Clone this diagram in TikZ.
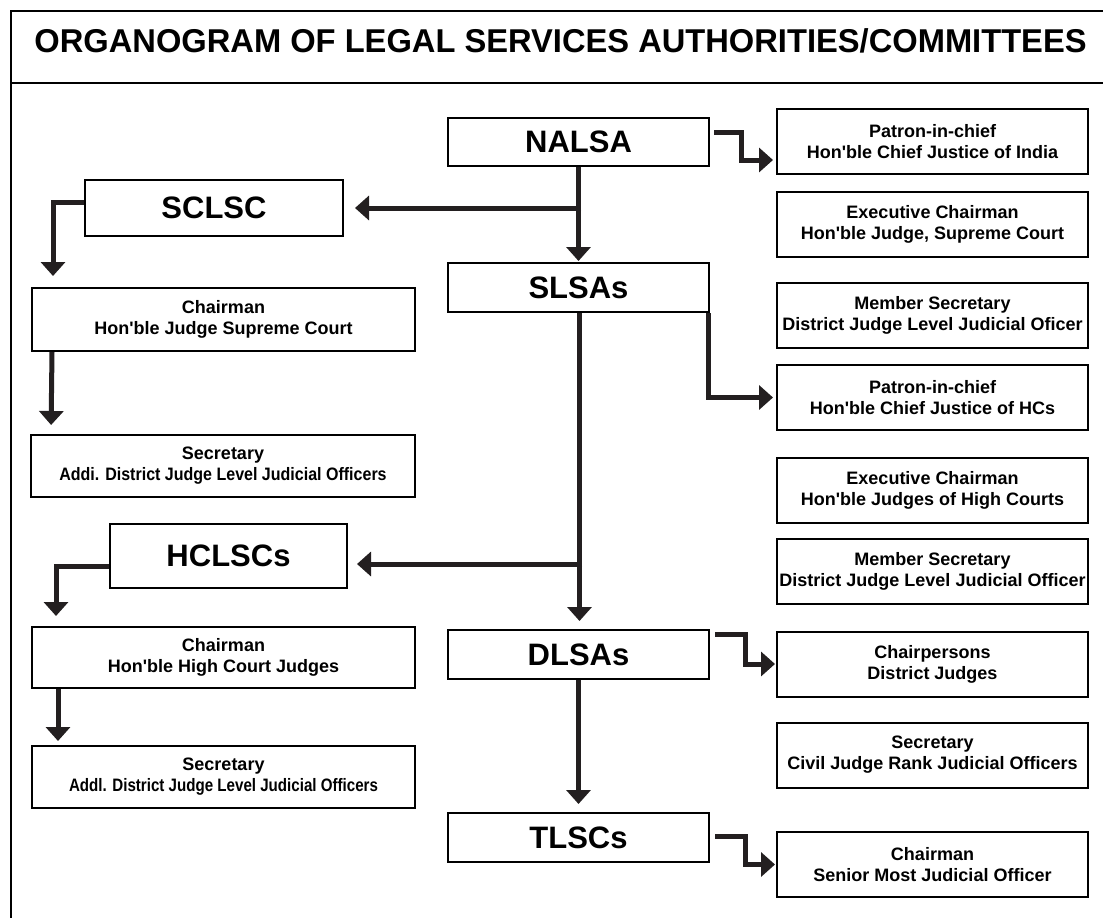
\documentclass[tikz,border=0pt]{standalone}
\usepackage{fontspec}
\setmainfont{Liberation Sans}
\usetikzlibrary{arrows.meta}
\definecolor{ink}{HTML}{231F20}
\newcommand{\sq}[2]{\scalebox{#1}[1]{#2}}
\newcommand{\ap}{\textquotesingle}
\tikzset{
  frame/.style={line width=2pt, draw=black},
  bigbox/.style={draw=black, line width=2pt, inner sep=0pt, font=\fontsize{31}{31}\selectfont\bfseries},
  infobox/.style={draw=black, line width=2pt, inner sep=0pt, align=center, minimum width=311pt, minimum height=65pt, font=\fontsize{18}{21}\selectfont\bfseries},
  leftbox/.style={draw=black, line width=2pt, inner sep=0pt, align=center, minimum width=383pt, font=\fontsize{18}{21}\selectfont\bfseries},
  conn/.style={draw=ink, line width=5pt, line join=miter, -{Triangle[length=14pt,width=24pt]}},
}
\begin{document}
\begin{tikzpicture}[x=1pt,y=-1pt]
\clip (0,0) rectangle (1103,918);
\fill[white] (0,0) rectangle (1103,918);
% frame
\draw[frame] (1120,11) -- (11,11) -- (11,940);
\draw[frame] (11,83) -- (1120,83);
\node (title) at (560.5,41) {\fontsize{33}{33}\selectfont\bfseries\sq{0.99}{ORGANOGRAM OF LEGAL SERVICES AUTHORITIES/COMMITTEES}};
% centre column
\node[bigbox, minimum width=261pt, minimum height=48pt] (nalsa) at (578.5,142) {NALSA};
\node[bigbox, minimum width=261pt, minimum height=49pt] (slsa) at (578.5,287.5) {SLSAs};
\node[bigbox, minimum width=261pt, minimum height=49pt] (dlsa) at (578.5,654.5) {DLSAs};
\node[bigbox, minimum width=261pt, minimum height=49pt] (tlsc) at (578.5,837.5) {TLSCs};
% left column
\node[bigbox, minimum width=258pt, minimum height=56pt] (sclsc) at (214,208) {SCLSC};
\node[leftbox, minimum height=63pt] (scch) at (223.5,319.5) {Chairman\\Hon\ap ble Judge Supreme Court};
\node[leftbox, minimum width=384pt, minimum height=62pt] (scsec) at (223,466) {Secretary\\\sq{0.89}{Addi. District Judge Level Judicial Officers}};
\node[bigbox, minimum width=237pt, minimum height=64pt] (hclsc) at (228.5,556) {HCLSCs};
\node[leftbox, minimum height=61pt] (hcch) at (223.5,657.5) {Chairman\\Hon\ap ble High Court Judges};
\node[leftbox, minimum height=62pt] (hcsec) at (223.5,777) {Secretary\\\sq{0.84}{Addl. District Judge Level Judicial Officers}};
% right column
\node[infobox] (p1) at (932.5,141.5) {Patron-in-chief\\Hon\ap ble Chief Justice of India};
\node[infobox] (e1) at (932.5,224.5) {Executive Chairman\\Hon\ap ble Judge, Supreme Court};
\node[infobox] (m1) at (932.5,315.5) {Member Secretary\\District Judge Level Judicial Oficer};
\node[infobox] (p2) at (932.5,397.5) {Patron-in-chief\\Hon\ap ble Chief Justice of HCs};
\node[infobox] (e2) at (932.5,490) {Executive Chairman\\Hon\ap ble Judges of High Courts};
\node[infobox] (m2) at (932.5,571.5) {Member Secretary\\District Judge Level Judicial Officer};
\node[infobox] (cp) at (932.5,664) {Chairpersons\\District Judges};
\node[infobox] (cs) at (932.5,755) {Secretary\\Civil Judge Rank Judicial Officers};
\node[infobox] (sm) at (932.5,864.5) {Chairman\\Senior Most Judicial Officer};
% connectors: centre spine
\coordinate (j1) at (578.5,208);
\coordinate (j2) at (579.5,564);
\draw[conn, shorten >=1pt] (nalsa.south) -- (slsa.north);
\draw[conn, shorten >=11pt] ([xshift=2.5pt]j1) -- (j1 -| sclsc.east);
\draw[conn, shorten >=8pt] ([xshift=1pt]slsa.south) -- ([xshift=1pt]dlsa.north);
\draw[conn, shorten >=9pt] ([xshift=2.5pt]j2) -- (j2 -| hclsc.east);
\draw[conn, shorten >=8pt] (dlsa.south) -- (tlsc.north);
% left elbows
\draw[conn, shorten >=11pt] ([yshift=6pt]sclsc.west) -| ([xshift=22pt]scch.north west);
\draw[conn, shorten >=9pt] ([xshift=21pt]scch.south west) -- ([xshift=21pt]scsec.north west);
\draw[conn, shorten >=10pt] ([yshift=-10pt]hclsc.west) -| ([xshift=25pt]hcch.north west);
\draw[conn, shorten >=4pt] ([xshift=27pt]hcch.south west) -- ([xshift=27pt]hcsec.north west);
% right elbows
\draw[conn, shorten >=3pt] ([xshift=4pt,yshift=10pt]nalsa.east) -- ++(27,0) |- ([yshift=-18.5pt]p1.west);
\draw[conn, shorten >=3pt] ([xshift=-2pt]slsa.south east) |- (p2.west);
\draw[conn, shorten >=1pt] ([xshift=5pt,yshift=20pt]dlsa.east) -- ++(30,0) |- (cp.west);
\draw[conn, shorten >=1pt] ([xshift=5pt,yshift=1pt]tlsc.east) -- ++(30,0) |- (sm.west);
\end{tikzpicture}
\end{document}
